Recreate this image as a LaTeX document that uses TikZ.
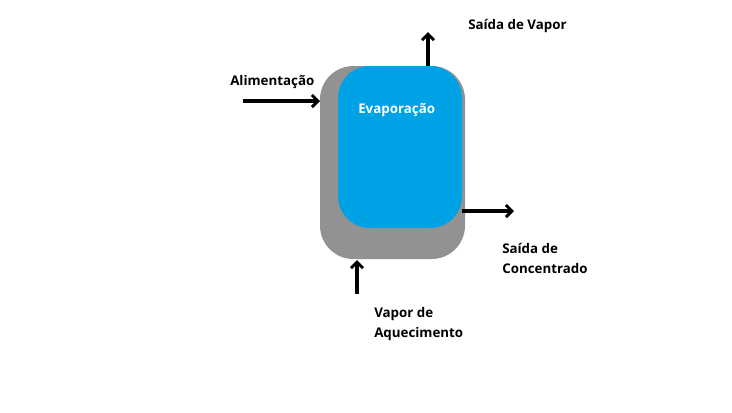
\documentclass[tikz,border=0pt]{standalone}
\usepackage{fontspec}
\setmainfont{Open Sans}
\usetikzlibrary{arrows.meta}
\begin{document}
\begin{tikzpicture}[x=0.75pt,y=-0.75pt,
  flow/.style={line width=2.4pt,-{Straight Barb[length=4.5pt,width=9pt,line width=2.2pt]}},
  lbl/.style={font=\bfseries\fontsize{10}{15}\selectfont,inner sep=0pt,align=left},
  shell/.style={draw=none,rounded corners=25pt},
  core/.style={draw=none,rounded corners=24pt}]
\useasboundingbox (0,0) rectangle (732,412);
\fill[white] (0,0) rectangle (732,412);
\path[shell,fill={rgb,255:red,146;green,146;blue,146}] (320,66) rectangle (465,259);
\path[core,fill={rgb,255:red,0;green,162;blue,230}] (338,66) rectangle (462,228);
\node[coordinate] (shellW) at (320,101) {};
\node[coordinate] (feedS) at (243,101) {};
\node[coordinate] (topN) at (428,66) {};
\node[coordinate] (vapE) at (428,32) {};
\node[coordinate] (coreE) at (462,211) {};
\node[coordinate] (concE) at (514,211) {};
\node[coordinate] (heatS) at (357,294) {};
\node[coordinate] (shellS) at (357,260) {};
\draw[flow] (feedS) -- (shellW);
\draw[flow] (topN) -- (vapE);
\draw[flow] (coreE) -- (concE);
\draw[flow] (heatS) -- (shellS);
\node[lbl,anchor=west] (alim) at (230,82) {Alimentação};
\node[lbl,anchor=west] (svap) at (468,26) {Saída de Vapor};
\node[lbl,anchor=west,text=white] (evap) at (358,110) {Evaporação};
\node[lbl,anchor=north west] (conc) at (502,243) {Saída de\\Concentrado};
\node[lbl,anchor=north west] (aquec) at (374,307) {Vapor de\\Aquecimento};
\end{tikzpicture}
\end{document}
